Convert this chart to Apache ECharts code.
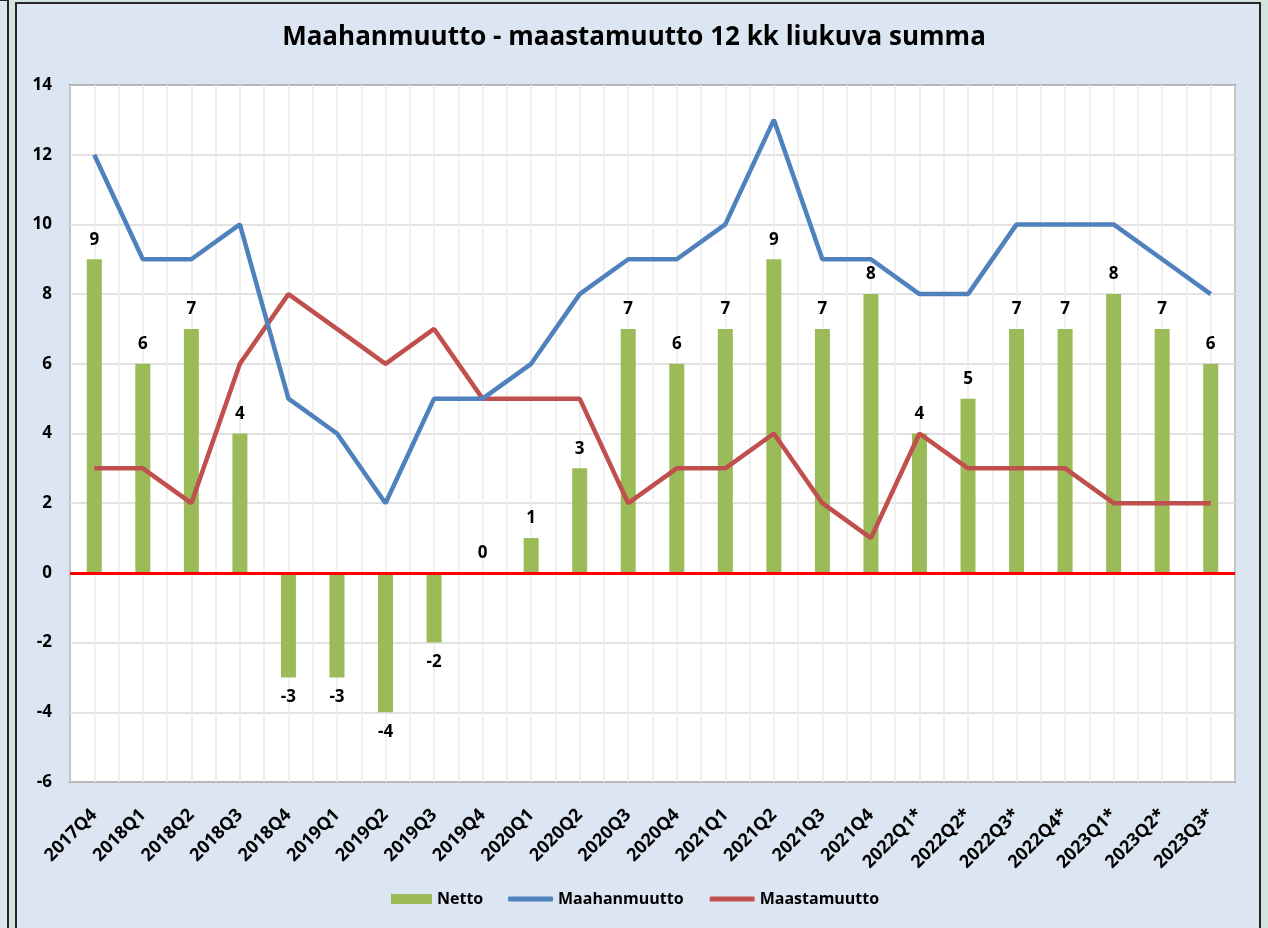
<!DOCTYPE html>
<html>
<head>
<meta charset="utf-8">
<script src="https://cdn.jsdelivr.net/npm/echarts@6/dist/echarts.min.js"></script>
<style>
  html, body { margin: 0; padding: 0; background: #d2e4de; }
  #chart { width: 1268px; height: 928px; }
</style>
</head>
<body>
<div id="chart"></div>
<script>
// kvartaalit
var categories = ['2017Q4', '2018Q1', '2018Q2', '2018Q3', '2018Q4', '2019Q1', '2019Q2', '2019Q3',
  '2019Q4', '2020Q1', '2020Q2', '2020Q3', '2020Q4', '2021Q1', '2021Q2', '2021Q3', '2021Q4',
  '2022Q1*', '2022Q2*', '2022Q3*', '2022Q4*', '2023Q1*', '2023Q2*', '2023Q3*'];
var netto = [9, 6, 7, 4, -3, -3, -4, -2, 0, 1, 3, 7, 6, 7, 9, 7, 8, 4, 5, 7, 7, 8, 7, 6];
var maahanmuutto = [12, 9, 9, 10, 5, 4, 2, 5, 5, 6, 8, 9, 9, 10, 13, 9, 9, 8, 8, 10, 10, 10, 9, 8];
var maastamuutto = [3, 3, 2, 6, 8, 7, 6, 7, 5, 5, 5, 2, 3, 3, 4, 2, 1, 4, 3, 3, 3, 2, 2, 2];
var yTicks = [-6, -4, -2, 0, 2, 4, 6, 8, 10, 12, 14];

var font = 'Open Sans';
var legendText = { fontFamily: font, fontSize: 16, fontWeight: 'bold', color: '#000' };
var myChart = echarts.init(document.getElementById('chart'));

var option = {
  backgroundColor: '#d2e4de',
  textStyle: { fontFamily: font },
  graphic: [
    // vasemman reunan viereinen paneeli
    { type: 'rect', z: -10, shape: { x: -2, y: 0, width: 10, height: 940 },
      style: { fill: '#dce6f2', stroke: '#262626', lineWidth: 2 } },
    // kaavion paneeli
    { type: 'rect', z: -10, shape: { x: 16, y: 3, width: 1244, height: 940 },
      style: { fill: '#dce6f2', stroke: '#262626', lineWidth: 2 } }
  ],
  title: {
    text: 'Maahanmuutto - maastamuutto 12 kk liukuva summa',
    left: 'center',
    top: 20,
    textStyle: { fontFamily: font, fontSize: 26, fontWeight: 'bold', color: '#000' }
  },
  legend: [
    {
      left: 386, top: 886,
      itemWidth: 41, itemHeight: 10,
      textStyle: legendText,
      data: [{ name: 'Netto', icon: 'rect' }]
    },
    {
      left: 503, top: 886,
      itemGap: 26,
      itemWidth: 45, itemHeight: 5,
      textStyle: legendText,
      data: [
        { name: 'Maahanmuutto', icon: 'roundRect' },
        { name: 'Maastamuutto', icon: 'roundRect' }
      ]
    }
  ],
  grid: {
    left: 70, right: 33, top: 85, bottom: 146,
    show: true, backgroundColor: '#fff', borderColor: '#262626', borderWidth: 1.5
  },
  xAxis: [
    {
      type: 'category',
      data: categories,
      position: 'bottom',
      boundaryGap: true,
      axisLine: { show: false, onZero: false },
      axisTick: { show: false },
      splitLine: { show: false },
      axisLabel: {
        interval: 0, rotate: 45, margin: 30,
        fontFamily: font, fontSize: 18, fontWeight: 'bold', color: '#000'
      }
    },
    {
      // pystyruudukko puolen kategorian välein
      type: 'value', min: 0, max: categories.length * 2, interval: 1,
      position: 'top', show: true,
      axisLine: { show: false }, axisTick: { show: false }, axisLabel: { show: false },
      splitLine: { show: true, lineStyle: { color: '#ebebeb', width: 1.5 } }
    }
  ],
  yAxis: {
    type: 'value',
    min: yTicks[0],
    max: yTicks[yTicks.length - 1],
    interval: 2,
    axisLine: { show: false },
    axisTick: { show: false },
    splitLine: { lineStyle: { color: '#d9d9d9', width: 1.5 } },
    axisLabel: { margin: 18, fontFamily: font, fontSize: 17, fontWeight: 'bold', color: '#000' }
  },
  series: [
    {
      name: 'Netto',
      type: 'bar',
      xAxisIndex: 0,
      barWidth: 15,
      itemStyle: { color: '#9bbb59' },
      data: netto.map(function (v) {
        return { value: v, label: { position: v < 0 ? 'bottom' : 'top' } };
      }),
      label: {
        show: true, distance: 11,
        fontFamily: font, fontSize: 17, fontWeight: 'bold', color: '#000'
      },
      markLine: {
        silent: true, symbol: 'none',
        label: { show: false },
        lineStyle: { color: '#ff0000', width: 3, type: 'solid' },
        data: [{ yAxis: 0 }]
      }
    },
    {
      name: 'Maahanmuutto',
      type: 'line',
      xAxisIndex: 0,
      z: 4,
      showSymbol: false,
      symbol: 'none',
      lineStyle: { color: '#4f81bd', width: 4.5 },
      itemStyle: { color: '#4f81bd' },
      data: maahanmuutto
    },
    {
      name: 'Maastamuutto',
      type: 'line',
      xAxisIndex: 0,
      z: 3,
      showSymbol: false,
      symbol: 'none',
      lineStyle: { color: '#c0504d', width: 4.5 },
      itemStyle: { color: '#c0504d' },
      data: maastamuutto
    }
  ]
};

myChart.setOption(option);
</script>
</body>
</html>
